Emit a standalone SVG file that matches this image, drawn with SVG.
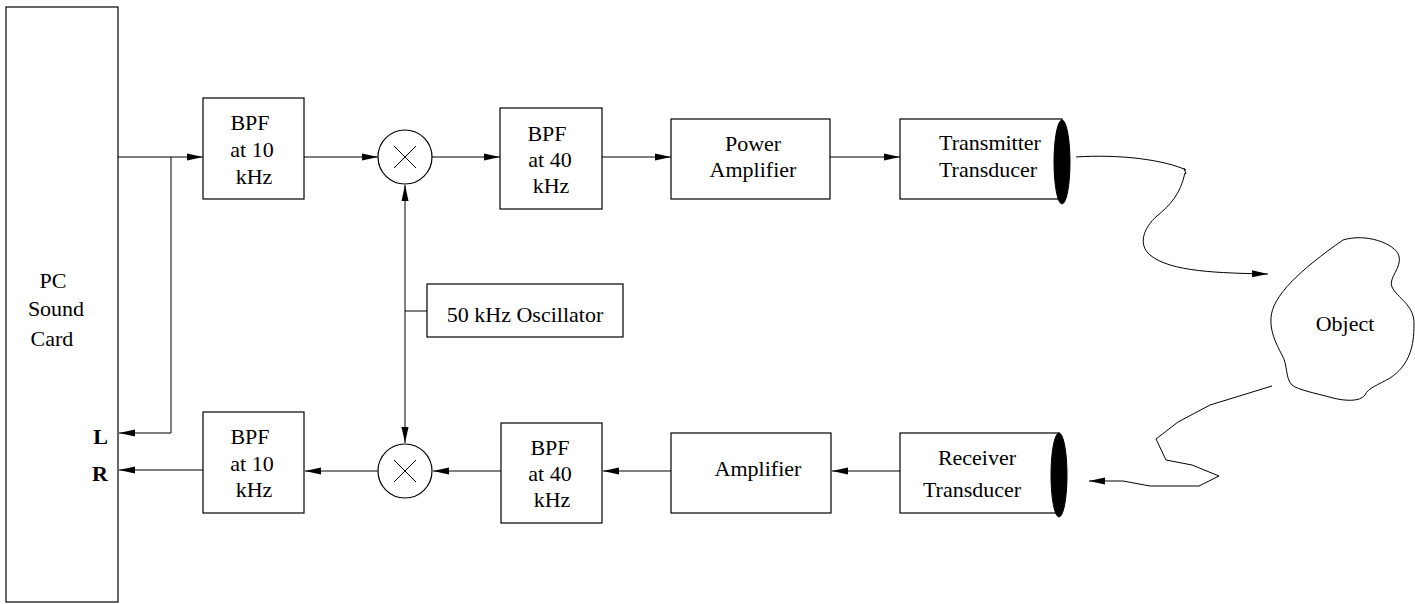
<svg xmlns="http://www.w3.org/2000/svg" width="1415" height="604" viewBox="0 0 1415 604">
  <style>
    .box { fill: #fff; stroke: #000; stroke-width: 1.2; }
    .wire { fill: none; stroke: #000; stroke-width: 1; }
    .arr { marker-end: url(#arrow); }
    .lbl { font-size: 22px; fill: #000; text-anchor: middle; }
    .pin { font-size: 22px; font-weight: bold; fill: #000; text-anchor: end; }
    .lens { fill: #000; stroke: #000; stroke-width: 1; }
  </style>
  <defs>
    <marker id="arrow" markerUnits="userSpaceOnUse" markerWidth="16" markerHeight="8" viewBox="0 0 16 7" refX="16" refY="3.5" orient="auto-start-reverse">
      <path d="M0,0 L16,3.5 L0,7 Z" fill="#000"/>
    </marker>
  </defs>
  <rect width="1415" height="604" fill="#fff"/>

  <!-- connectors -->
  <g id="connectors">
    <path class="wire arr" d="M118,157 H203"/>
    <path class="wire arr" d="M171,157 V433 H119"/>
    <path class="wire arr" d="M203,470 H119"/>
    <path class="wire arr" d="M304,157 H378"/>
    <path class="wire arr" d="M432,157 H500"/>
    <path class="wire arr" d="M602,157 H671"/>
    <path class="wire arr" d="M830,157 H900"/>
    <path class="wire arr" d="M900,471 H832"/>
    <path class="wire arr" d="M671,471 H603"/>
    <path class="wire arr" d="M501,471 H433"/>
    <path class="wire arr" d="M378,471 H305"/>
    <path class="wire" d="M405,185 V443" marker-start="url(#arrow)" marker-end="url(#arrow)"/>
    <path class="wire" d="M405,311 H427"/>
    <!-- outgoing wave toward the object -->
    <path class="wire" d="M1076,157 C1120,154 1165,160 1186,170"/>
    <path class="wire" d="M1184,168 L1186,174"/>
    <path class="wire arr" d="M1185,173 C1180,195 1170,205 1157,216 C1143,228 1138,245 1150,255 C1170,272 1220,273 1268,274"/>
    <!-- echo returning to the receiver -->
    <polyline class="wire arr" points="1272,386 1210,405 1178,422 1156,439 1166,460 1192,465 1219,476 1199,486 1150,486 1123,481 1089,481"/>
  </g>

  <g font-family="'Liberation Serif', 'DejaVu Serif', serif">
  <g id="sound-card">
    <rect class="box" x="6" y="7" width="112" height="595"/>
    <text class="lbl" x="53" y="288">PC</text>
    <text class="lbl" x="56" y="316">Sound</text>
    <text class="lbl" x="52" y="346">Card</text>
    <text class="pin" x="108" y="444">L</text>
    <text class="pin" x="108" y="481">R</text>
  </g>

  <g id="bpf10-tx">
    <rect class="box" x="203" y="98" width="101" height="101"/>
    <text class="lbl" x="250" y="130">BPF</text>
    <text class="lbl" x="252" y="157">at 10</text>
    <text class="lbl" x="254" y="184">kHz</text>
  </g>

  <g id="mixer-tx">
    <circle class="box" cx="405" cy="157" r="27"/>
    <path class="wire" d="M394,146 L416,168 M416,146 L394,168"/>
  </g>

  <g id="bpf40-tx">
    <rect class="box" x="500" y="108" width="102" height="101"/>
    <text class="lbl" x="547" y="141">BPF</text>
    <text class="lbl" x="550" y="167">at 40</text>
    <text class="lbl" x="551" y="193">kHz</text>
  </g>

  <g id="power-amp">
    <rect class="box" x="671" y="119" width="159" height="80"/>
    <text class="lbl" x="753" y="151">Power</text>
    <text class="lbl" x="753" y="177">Amplifier</text>
  </g>

  <g id="tx-transducer">
    <rect class="box" x="900" y="119" width="162" height="80"/>
    <ellipse class="lens" cx="1062" cy="162" rx="8" ry="42"/>
    <text class="lbl" x="990" y="150">Transmitter</text>
    <text class="lbl" x="988" y="177">Transducer</text>
  </g>

  <g id="oscillator">
    <rect class="box" x="427" y="284" width="196" height="53"/>
    <text class="lbl" x="525" y="322">50 kHz Oscillator</text>
  </g>

  <g id="object">
    <path class="wire" d="M1343,240 C1365,233 1395,243 1399,256 C1402,268 1388,278 1392,287 C1397,298 1415,305 1414,325 C1414,345 1410,365 1390,378 C1378,385 1368,388 1365,395 C1360,402 1345,401 1333,398 C1315,393 1298,390 1292,385 C1285,378 1288,365 1282,355 C1275,342 1270,330 1271,318 C1272,296 1300,270 1343,240 Z"/>
    <text class="lbl" x="1345" y="331">Object</text>
  </g>

  <g id="rx-transducer">
    <rect class="box" x="900" y="433" width="159" height="80"/>
    <ellipse class="lens" cx="1059" cy="475" rx="8" ry="42"/>
    <text class="lbl" x="977" y="465">Receiver</text>
    <text class="lbl" x="972" y="497">Transducer</text>
  </g>

  <g id="amplifier">
    <rect class="box" x="671" y="433" width="160" height="80"/>
    <text class="lbl" x="758" y="476">Amplifier</text>
  </g>

  <g id="bpf40-rx">
    <rect class="box" x="501" y="423" width="101" height="100"/>
    <text class="lbl" x="550" y="455">BPF</text>
    <text class="lbl" x="550" y="481">at 40</text>
    <text class="lbl" x="552" y="507">kHz</text>
  </g>

  <g id="mixer-rx">
    <circle class="box" cx="405" cy="471" r="27"/>
    <path class="wire" d="M394,460 L416,482 M416,460 L394,482"/>
  </g>

  <g id="bpf10-rx">
    <rect class="box" x="203" y="412" width="101" height="101"/>
    <text class="lbl" x="250" y="444">BPF</text>
    <text class="lbl" x="252" y="471">at 10</text>
    <text class="lbl" x="254" y="497">kHz</text>
  </g>
  </g>
</svg>
